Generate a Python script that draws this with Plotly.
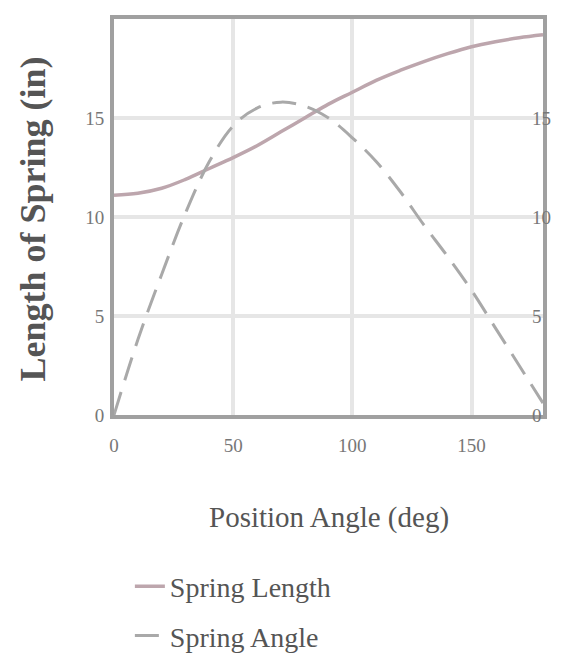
import plotly.graph_objects as go

angle_deg = [0, 10, 20, 30, 40, 50, 60, 70, 80, 90, 100, 110, 120, 130, 140, 150, 160, 170, 180]
spring_length = [11.1, 11.2, 11.45, 11.9, 12.45, 13.0, 13.6, 14.3, 15.0, 15.7, 16.3, 16.9, 17.4, 17.85, 18.25, 18.6, 18.85, 19.05, 19.2]
spring_angle = [0.0, 3.8, 7.1, 10.2, 12.8, 14.6, 15.5, 15.8, 15.6, 15.0, 14.0, 12.8, 11.3, 9.6, 8.0, 6.3, 4.4, 2.5, 0.6]
x_ticks = [0, 50, 100, 150]
y_ticks = [0, 5, 10, 15]

FONT = "Liberation Serif, Times New Roman, serif"
AXIS = "#a0a0a0"
GRID = "#e6e6e6"
TXT = "#555555"

fig = go.Figure()
fig.add_trace(go.Scatter(x=angle_deg, y=spring_length, mode="lines", name="Spring Length",
                         legendgroup="a",
                         line=dict(color="#bda6ad", width=3.5, shape="spline")))
fig.add_trace(go.Scatter(x=angle_deg, y=spring_angle, mode="lines", name="Spring Angle",
                         legendgroup="b",
                         line=dict(color="#a9a9a9", width=3, dash="24px,12px", shape="spline")))
# invisible trace to activate the right-hand axis
fig.add_trace(go.Scatter(x=[0], y=[0], yaxis="y2", mode="markers", marker=dict(opacity=0),
                         showlegend=False, hoverinfo="skip"))

tickfont = dict(family=FONT, size=19, color="#777777")

fig.update_layout(
    width=568, height=663,
    margin=dict(l=106, r=33, t=11, b=252),
    paper_bgcolor="white", plot_bgcolor="white",
    font=dict(family=FONT, color=TXT, size=19),
    xaxis=dict(range=[0, 180], tickvals=x_ticks, showgrid=True, gridcolor=GRID, gridwidth=4,
               showline=True, mirror=True, linecolor=AXIS, linewidth=4, zeroline=False,
               ticks="", tickfont=tickfont, ticklabelstandoff=10, automargin=False),
    yaxis=dict(range=[0, 20], tickvals=y_ticks, showgrid=True, gridcolor=GRID, gridwidth=4,
               showline=True, mirror=True, linecolor=AXIS, linewidth=4, zeroline=False,
               ticks="", tickfont=tickfont, ticklabelstandoff=2, automargin=False),
    yaxis2=dict(range=[0, 20], tickvals=y_ticks, overlaying="y", side="right", showgrid=False,
                zeroline=False, showline=False, ticks="", tickfont=tickfont,
                ticklabelstandoff=-12, automargin=False),
    showlegend=True,
    legend=dict(x=0.037, y=-0.37, xanchor="left", yanchor="top", orientation="v",
                font=dict(family=FONT, size=28, color=TXT), bgcolor="rgba(0,0,0,0)",
                tracegroupgap=10, traceorder="grouped"),
    annotations=[
        dict(text="Position Angle (deg)", xref="paper", yref="paper", x=0.5, y=-0.26,
             xanchor="center", yanchor="middle", showarrow=False,
             font=dict(family=FONT, size=29, color=TXT)),
        dict(text="<b>Length of Spring (in)</b>", xref="paper", yref="paper", x=-0.19, y=0.495,
             xanchor="center", yanchor="middle", showarrow=False, textangle=-90,
             font=dict(family=FONT, size=36, color=TXT)),
    ],
)

fig.write_html("out.html")
